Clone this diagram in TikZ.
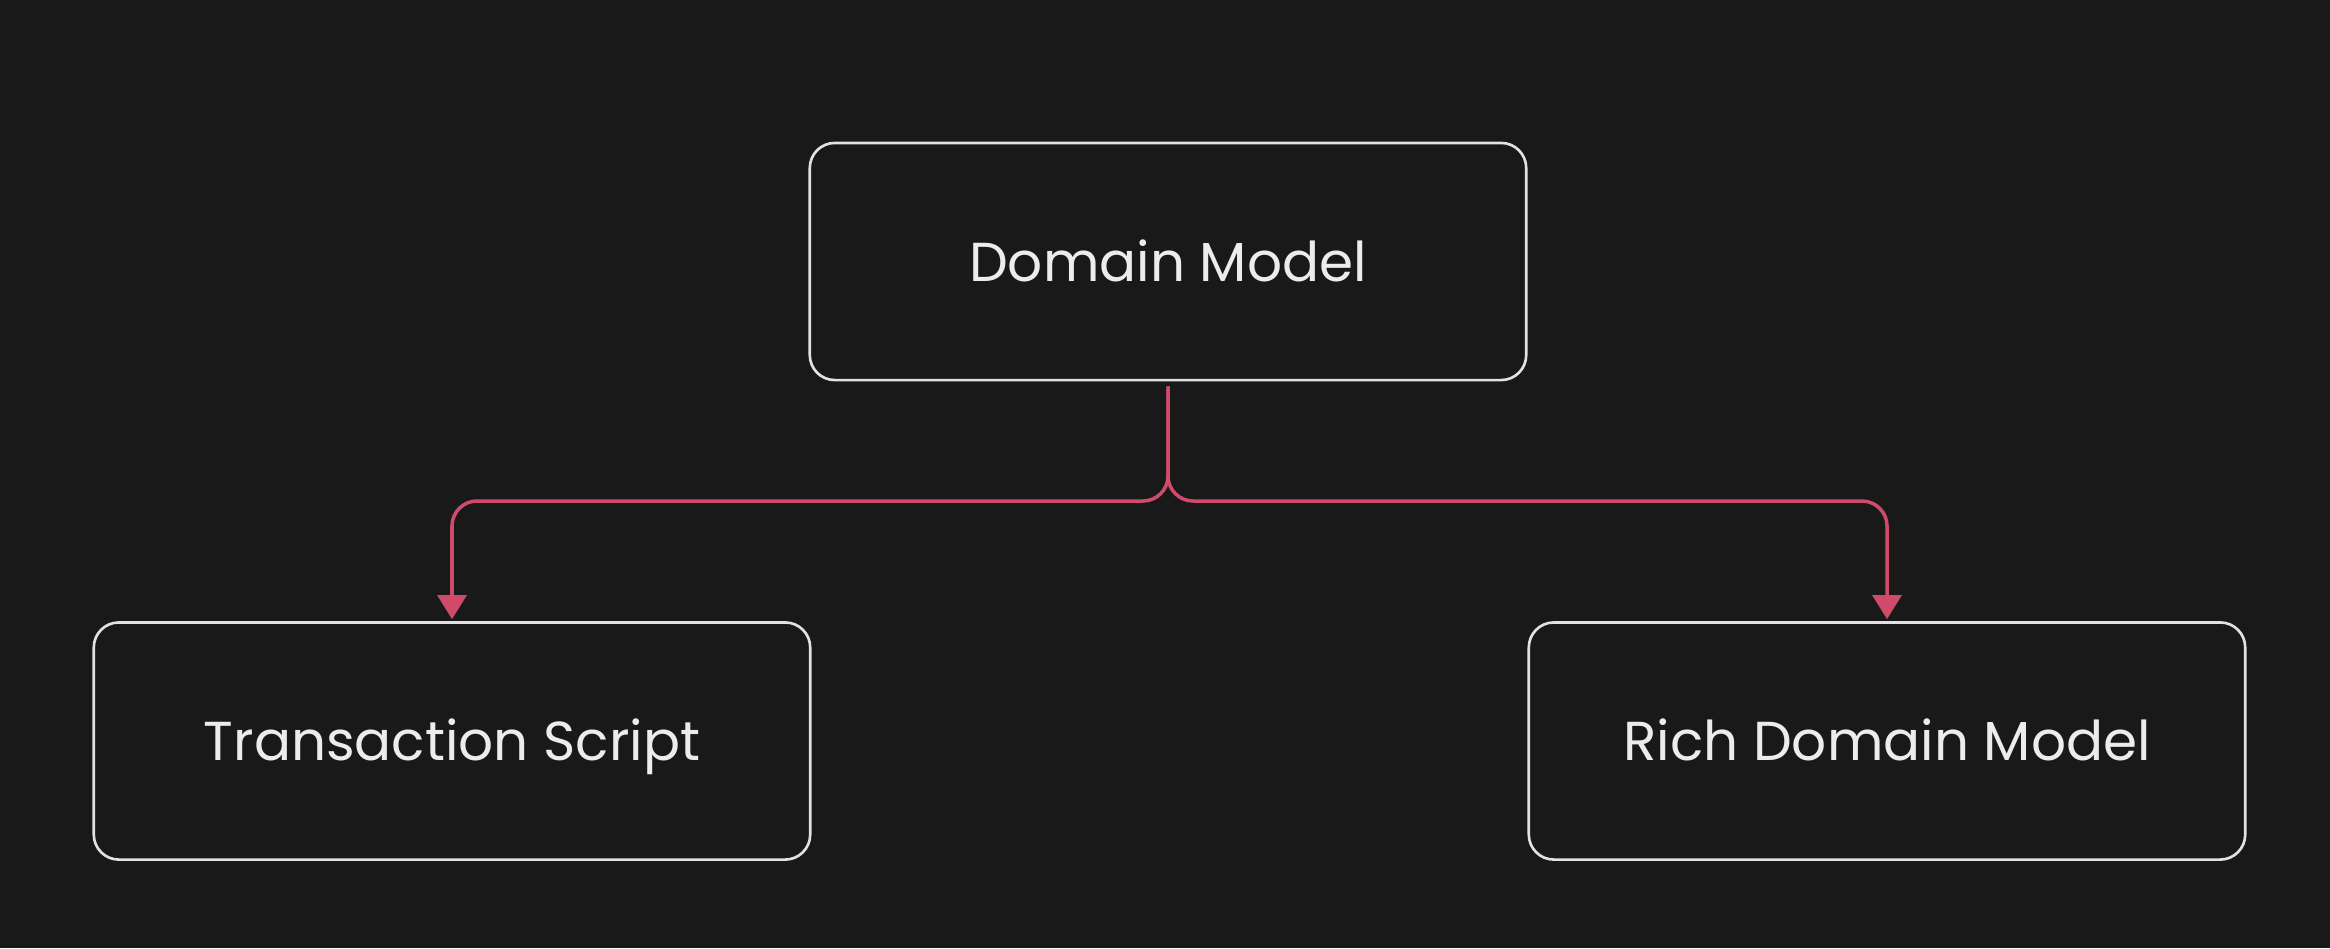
\documentclass[tikz,border=0pt]{standalone}
\usepackage{fontspec}
\setmainfont{Poppins}
\usetikzlibrary{arrows.meta}
\definecolor{bg}{HTML}{191919}
\definecolor{boxline}{HTML}{E2E2E2}
\definecolor{txt}{HTML}{ECECEC}
\definecolor{conn}{HTML}{D04A6A}
\tikzset{
  boxnode/.style={draw=boxline, line width=0.75pt, rounded corners=0.25cm,
    minimum width=7.16cm, minimum height=2.37cm, inner sep=0pt,
    text height=11.2pt, text depth=0pt,
    text=txt, font=\fontsize{15.6}{19}\selectfont},
  connector/.style={draw=conn, line width=1pt, rounded corners=0.25cm,
    -{Triangle[width=0.29cm,length=0.24cm]}}
}
\begin{document}
\begin{tikzpicture}[x=0.01cm,y=-0.01cm]
\fill[bg] (0,0) rectangle (2330,948);
\useasboundingbox (0,0) rectangle (2330,948);
\node[boxnode] (dm) at (1168,261.5) {Domain Model};
\node[boxnode] (ts) at (452,741) {Transaction Script};
\node[boxnode] (rdm) at (1887,741) {Rich Domain Model};
\coordinate (start) at ([yshift=-0.05cm]dm.south);
\coordinate (jl) at (ts.north |- 0,501);
\coordinate (jr) at (rdm.north |- 0,501);
\draw[connector] (start) |- (jl) -- ([yshift=0.02cm]ts.north);
\draw[connector] (start) |- (jr) -- ([yshift=0.02cm]rdm.north);
\end{tikzpicture}
\end{document}
